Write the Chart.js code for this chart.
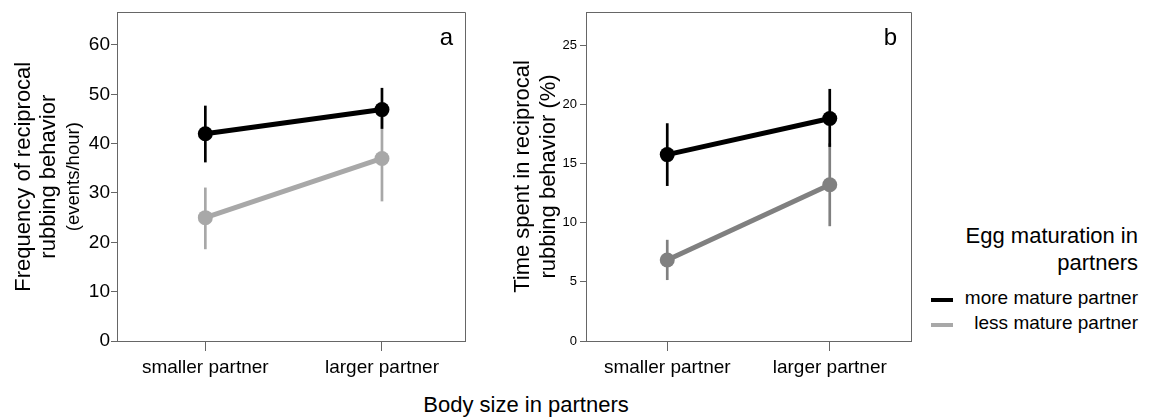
<!DOCTYPE html>
<html>
<head>
<meta charset="utf-8">
<script src="https://cdn.jsdelivr.net/npm/chart.js@4.4.1/dist/chart.umd.min.js"></script>
<style>
    body { margin: 0; background: #fff; font-family: "Liberation Sans", Arial, sans-serif; }
    #wrap { position: relative; width: 1154px; height: 420px; overflow: hidden; background: #fff; }
    .box { position: absolute; top: 0; height: 390px; }
    #boxA { left: 0; width: 480px; }
    #boxB { left: 500px; width: 430px; }
    #xtitle { position: absolute; left: 0; width: 1052px; top: 392px; text-align: center; font-size: 22px; color: #000; }
    #legTitle { position: absolute; right: 16px; top: 222px; text-align: right; font-size: 22px; line-height: 27px; color: #000; }
    #legItems { position: absolute; right: 16px; top: 285px; text-align: right; font-size: 19px; line-height: 25px; color: #000; }
    .swatch { position: absolute; left: 931px; width: 22px; height: 4px; }
</style>
</head>
<body>
<div id="wrap">
    <div class="box" id="boxA"><canvas id="chartA"></canvas></div>
    <div class="box" id="boxB"><canvas id="chartB"></canvas></div>
    <div id="xtitle">Body size in partners</div>
    <div id="legTitle">Egg maturation in<br>partners</div>
    <div class="swatch" id="swMore" style="top:298px;"></div>
    <div class="swatch" id="swLess" style="top:323px;"></div>
    <div id="legItems"><span id="lgMore"></span><br><span id="lgLess"></span></div>
</div>
<script>
(function() {
    'use strict';

    var categories = ['smaller partner', 'larger partner'];
    var seriesNames = ['more mature partner', 'less mature partner'];

    // -- panel a: frequency (events/hour) --
    var freqMore = [42.0, 46.9];
    var freqMoreLow = [36.2, 43.0];
    var freqMoreHigh = [47.7, 51.3];
    var freqLess = [25.0, 37.0];
    var freqLessLow = [18.6, 28.3];
    var freqLessHigh = [31.1, 45.7];
    var freqTicks = [0, 10, 20, 30, 40, 50, 60];

    // -- panel b: time spent (%) --
    var timeMore = [15.75, 18.8];
    var timeMoreLow = [13.1, 16.4];
    var timeMoreHigh = [18.4, 21.3];
    var timeLess = [6.85, 13.2];
    var timeLessLow = [5.15, 9.7];
    var timeLessHigh = [8.55, 16.7];
    var timeTicks = [0, 5, 10, 15, 20, 25];

    var FONT = '"Liberation Sans", Arial, sans-serif';
    var AXIS = '#666';
    var BLACK = '#000';
    var GRAY_A = '#a8a8a8';
    var GRAY_B = '#808080';

    document.getElementById('lgMore').textContent = seriesNames[0];
    document.getElementById('lgLess').textContent = seriesNames[1];
    document.getElementById('swMore').style.background = BLACK;
    document.getElementById('swLess').style.background = GRAY_A;

    function toPoints(vals) {
        var pts = [];
        for (var i = 0; i < vals.length; i++) pts.push({ x: i, y: vals[i] });
        return pts;
    }

    // error bars drawn just before each dataset so layering follows dataset order
    var errorBars = {
        id: 'errorBars',
        beforeDatasetDraw: function(chart, args) {
            var ds = chart.data.datasets[args.index];
            if (!ds.errLow) return;
            var ctx = chart.ctx, xs = chart.scales.x, ys = chart.scales.y;
            ctx.save();
            ctx.strokeStyle = ds.borderColor;
            ctx.lineWidth = 2.7;
            for (var i = 0; i < ds.errLow.length; i++) {
                var x = xs.getPixelForValue(i);
                ctx.beginPath();
                ctx.moveTo(x, ys.getPixelForValue(ds.errLow[i]));
                ctx.lineTo(x, ys.getPixelForValue(ds.errHigh[i]));
                ctx.stroke();
            }
            ctx.restore();
        }
    };

    // frame, panel letter and rotated y title
    var decor = {
        id: 'decor',
        afterDraw: function(chart) {
            var o = chart.options.plugins.decor;
            var ctx = chart.ctx, a = chart.chartArea;
            ctx.save();
            ctx.strokeStyle = AXIS;
            ctx.lineWidth = 1;
            ctx.beginPath();
            ctx.moveTo(Math.round(a.left), Math.round(a.top) + 0.5);
            ctx.lineTo(Math.round(a.right) + 0.5, Math.round(a.top) + 0.5);
            ctx.lineTo(Math.round(a.right) + 0.5, Math.round(a.bottom));
            ctx.stroke();

            ctx.fillStyle = '#000';
            ctx.font = '24px ' + FONT;
            ctx.textAlign = 'right';
            ctx.textBaseline = 'alphabetic';
            ctx.fillText(o.letter, o.letterX, 45);

            var cy = (a.top + a.bottom) / 2;
            for (var i = 0; i < o.title.length; i++) {
                var t = o.title[i];
                ctx.save();
                ctx.translate(t.x, cy);
                ctx.rotate(-Math.PI / 2);
                ctx.font = t.size + 'px ' + FONT;
                ctx.textAlign = 'center';
                ctx.textBaseline = 'middle';
                ctx.fillText(t.text, 0, 0);
                ctx.restore();
            }
            ctx.restore();
        }
    };

    function makeChart(id, p) {
        var datasets = [
            {
                label: seriesNames[0], data: toPoints(p.more),
                errLow: p.moreLow, errHigh: p.moreHigh,
                borderColor: BLACK, backgroundColor: BLACK, pointBackgroundColor: BLACK
            },
            {
                label: seriesNames[1], data: toPoints(p.less),
                errLow: p.lessLow, errHigh: p.lessHigh,
                borderColor: p.gray, backgroundColor: p.gray, pointBackgroundColor: p.gray
            }
        ];
        for (var i = 0; i < datasets.length; i++) {
            datasets[i].borderWidth = 5;
            datasets[i].pointRadius = 7.5;
            datasets[i].pointBorderWidth = 0;
            datasets[i].tension = 0;
        }

        return new Chart(document.getElementById(id), {
            type: 'line',
            data: { datasets: datasets },
            options: {
                responsive: true, maintainAspectRatio: false, animation: false, events: [],
                layout: { padding: { top: p.padTop, right: p.padRight, left: 0, bottom: 0 } },
                plugins: {
                    legend: { display: false }, tooltip: { enabled: false },
                    decor: { letter: p.letter, letterX: p.letterX, title: p.title }
                },
                scales: {
                    x: {
                        type: 'linear', min: -0.5, max: p.xMax,
                        afterBuildTicks: function(s) { s.ticks = categories.map(function(c, i) { return { value: i }; }); },
                        afterFit: function(s) { s.height = 49; },
                        ticks: {
                            callback: function(v, i) { return categories[i]; },
                            font: { family: FONT, size: 19 }, color: '#000', padding: 5,
                            maxRotation: 0, autoSkip: false
                        },
                        grid: { drawOnChartArea: false, tickLength: 10, color: AXIS, lineWidth: 1 },
                        border: { color: AXIS, width: 1 }
                    },
                    y: {
                        min: 0, max: p.yMax,
                        afterBuildTicks: function(s) { s.ticks = p.ticks.map(function(v) { return { value: v }; }); },
                        afterFit: function(s) { s.width = p.yWidth; },
                        ticks: { font: { family: FONT, size: p.tickSize }, color: '#000', padding: p.tickPad },
                        grid: { drawOnChartArea: false, tickLength: 6, color: AXIS, lineWidth: 1 },
                        border: { color: AXIS, width: 1 }
                    }
                }
            },
            plugins: [errorBars, decor]
        });
    }

    makeChart('chartA', {
        more: freqMore, moreLow: freqMoreLow, moreHigh: freqMoreHigh,
        less: freqLess, lessLow: freqLessLow, lessHigh: freqLessHigh,
        gray: GRAY_A, ticks: freqTicks, yMax: 66.6, xMax: 1.47,
        padTop: 9, padRight: 15, yWidth: 117, tickSize: 19, tickPad: 1,
        letter: 'a', letterX: 453,
        title: [
            { text: 'Frequency of reciprocal', size: 22, x: 24 },
            { text: 'rubbing behavior', size: 22, x: 49 },
            { text: '(events/hour)', size: 18.5, x: 74 }
        ]
    });

    makeChart('chartB', {
        more: timeMore, moreLow: timeMoreLow, moreHigh: timeMoreHigh,
        less: timeLess, lessLow: timeLessLow, lessHigh: timeLessHigh,
        gray: GRAY_B, ticks: timeTicks, yMax: 27.8, xMax: 1.5,
        padTop: 12, padRight: 19, yWidth: 86, tickSize: 13, tickPad: 3,
        letter: 'b', letterX: 397,
        title: [
            { text: 'Time spent in reciprocal', size: 22, x: 23 },
            { text: 'rubbing behavior (%)', size: 22, x: 49 }
        ]
    });
})();
</script>
</body>
</html>
